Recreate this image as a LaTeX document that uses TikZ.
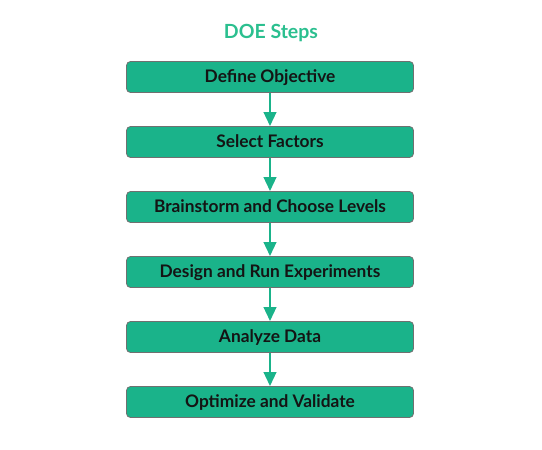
\documentclass[tikz,border=0pt]{standalone}
\usepackage{fontspec}
\setmainfont{Lato}
\usetikzlibrary{arrows.meta}
\definecolor{doegreen}{HTML}{1AB38A}
\definecolor{titlegreen}{HTML}{2BBF8F}
\definecolor{boxline}{HTML}{707070}
\definecolor{textdark}{HTML}{141414}
\begin{document}
\begin{tikzpicture}[
  x = 1pt, y = -1pt,
  every node/.style = {font=\bfseries, inner sep=0pt},
  stepbox/.style = {draw=boxline, line width=0.8pt, fill=doegreen, rounded corners=4pt,
    minimum width=287pt, minimum height=31pt, text height=11.8pt, text depth=0pt,
    text=textdark, font=\fontsize{17.3}{20}\bfseries},
  flow/.style = {draw=doegreen, line width=2.5pt, -{Triangle[width=12.5pt, length=14pt]}},
]
\useasboundingbox (0,0) rectangle (542,450);

\node[text=titlegreen, font=\fontsize{19.5}{22}\bfseries] (title) at (271, 33) {DOE Steps};

\node[stepbox] (define)   at (270, 77)  {Define Objective};
\node[stepbox] (factors)  at (270, 142) {Select Factors};
\node[stepbox] (levels)   at (270, 207) {Brainstorm and Choose Levels};
\node[stepbox] (design)   at (270, 272) {Design and Run Experiments};
\node[stepbox] (analyze)  at (270, 337) {Analyze Data};
\node[stepbox] (optimize) at (270, 402) {Optimize and Validate};

\foreach \from/\to in {define/factors, factors/levels, levels/design, design/analyze, analyze/optimize}
  \draw[flow] (\from.south) -- (\to.north);

\end{tikzpicture}
\end{document}
